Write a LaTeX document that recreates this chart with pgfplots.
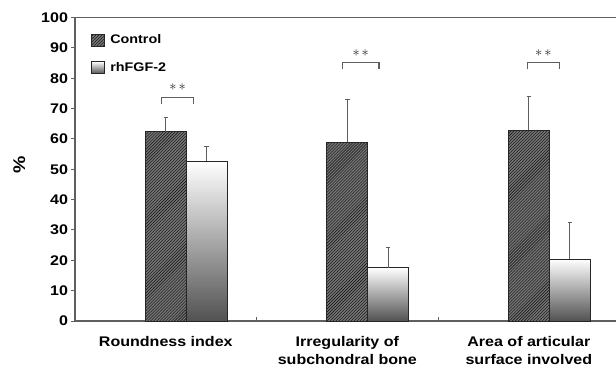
\documentclass[border=0pt]{standalone}
\usepackage{fontspec}
\setmainfont{Liberation Sans}[FakeStretch=1.15]
\usepackage{pgfplots}
\pgfplotsset{compat=1.18}
\usetikzlibrary{patterns,calc}
\definecolor{axgray}{RGB}{95,95,95}
\pgfplotsset{
  fgfbar/.style={ybar, bar width=0.225, bar shift=0pt, draw=black!85, line width=0.9bp,
    top color=white, middle color=black!12, bottom color=black!68,
    error bars/.cd, y dir=plus, y explicit,
    error bar style={axgray, line width=1bp},
    error mark options={rotate=90, mark size=2.2bp, axgray, line width=1bp},
    /pgfplots/.cd},
}
\begin{document}
\begin{tikzpicture}
\begin{axis}[
  scale only axis,
  width=541bp, height=303.5bp,
  xmin=-0.5, xmax=2.48,
  ymin=0, ymax=100,
  axis x line*=bottom, axis y line*=left,
  axis line style={axgray, line width=1.2bp},
  /pgf/number format/assume math mode=true,
  ytick={0,10,...,100},
  tick align=outside,
  major tick length=3.5bp,
  ytick style={axgray, line width=1bp},
  xtick={0,1,2},
  xtick style={draw=none},
  xticklabels={Roundness index, Irregularity of\\subchondral bone, Area of articular\\surface involved},
  xticklabel style={align=center, font=\bfseries\fontsize{14}{18.5}\selectfont, yshift=-8bp},
  yticklabel style={font=\bfseries\fontsize{14}{16}\selectfont},
  every axis y label/.style={at={(axis description cs:-0.103,0.514)}, rotate=90, anchor=center},
  ylabel={\bfseries\fontsize{17}{17}\selectfont\%},
  legend style={at={(rel axis cs:0.03,0.95)}, anchor=north west, draw=none, fill=none,
    font=\bfseries\fontsize{12.5}{14}\selectfont, row sep=13bp, inner sep=0pt,
    nodes={inner xsep=5bp}},
  legend cell align=left,
  legend image code/.code={\draw[#1] (0bp,-6bp) rectangle (13bp,6bp);},
]
\addplot[ybar, bar width=0.225, bar shift=0pt, draw=black!85, line width=0.9bp,
  fill=black!55, postaction={pattern=north east lines, pattern color=black!95},
  error bars/.cd, y dir=plus, y explicit,
  error bar style={axgray, line width=1bp},
  error mark options={rotate=90, mark size=2.2bp, axgray, line width=1bp}]
  coordinates {(0,62.4) +- (0,4.6) (1,58.9) +- (0,14.1) (2,62.8) +- (0,11.3)};
\addlegendentry{Control}
\addplot[fgfbar] coordinates {(0.225,52.7) +- (0,4.7)};
\addlegendentry{rhFGF-2}
\addplot[forget plot, fgfbar] coordinates {(1.225,17.6) +- (0,6.7)};
\addplot[forget plot, fgfbar] coordinates {(2.225,20.4) +- (0,12.1)};
% significance brackets
\addplot[axgray, line width=1.3bp, forget plot] coordinates {(-0.024,71.4) (-0.024,73.6) (0.154,73.6) (0.154,71.4)};
\addplot[axgray, line width=1.3bp, forget plot] coordinates {(0.974,82.9) (0.974,85.1) (1.174,85.1) (1.174,82.9)};
\addplot[axgray, line width=1.3bp, forget plot] coordinates {(1.993,82.9) (1.993,85.1) (2.167,85.1) (2.167,82.9)};
\node[font=\fontsize{15}{15}\selectfont, text=black!85] at (axis cs:0.065,77) {$\ast$\hspace{2bp}$\ast$};
\node[font=\fontsize{15}{15}\selectfont, text=black!85] at (axis cs:1.074,88.4) {$\ast$\hspace{2bp}$\ast$};
\node[font=\fontsize{15}{15}\selectfont, text=black!85] at (axis cs:2.08,88.4) {$\ast$\hspace{2bp}$\ast$};
% frame top and category separators
\draw[axgray, line width=1.2bp] (rel axis cs:0,1) -- (rel axis cs:1,1);
\draw[axgray, line width=1bp] (axis cs:0.5,0) -- (axis cs:0.5,1.4);
\draw[axgray, line width=1bp] (axis cs:1.5,0) -- (axis cs:1.5,1.4);
\coordinate (SW) at (rel axis cs:0,0);
\coordinate (NE) at (rel axis cs:1,1);
\end{axis}
\pgfresetboundingbox
\path[use as bounding box] ($(SW)+(-75bp,-49bp)$) rectangle ($(NE)+(0bp,17.5bp)$);
\end{tikzpicture}
\end{document}
